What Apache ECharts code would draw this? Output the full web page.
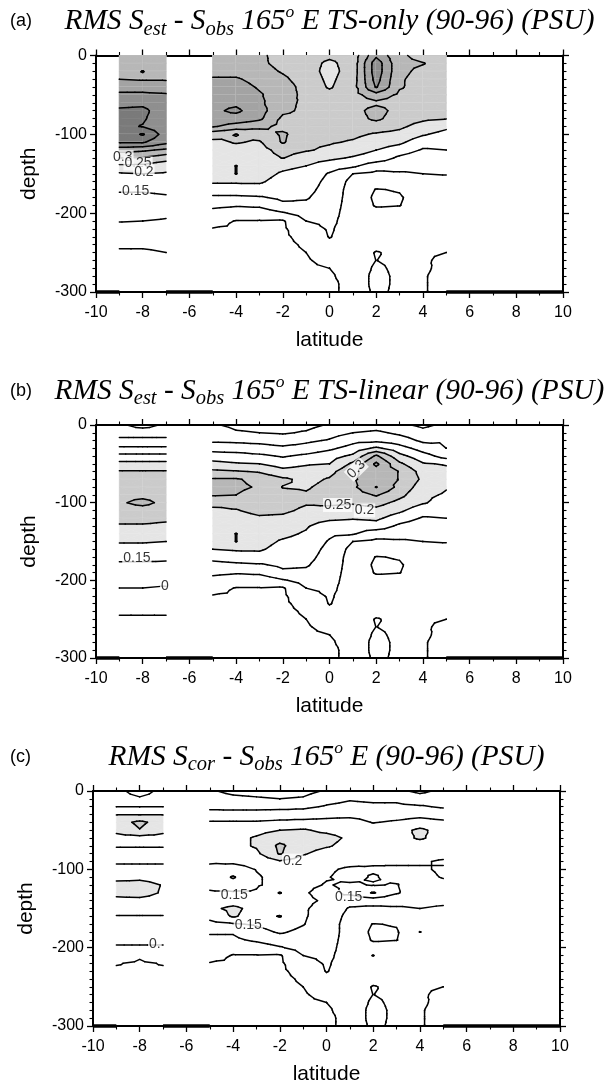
<!DOCTYPE html>
<html>
<head>
<meta charset="utf-8">
<script src="https://cdn.jsdelivr.net/npm/echarts/dist/echarts.min.js"></script>
<style>
html,body{margin:0;padding:0;background:#fff;}
#chart{width:609px;height:1089px;}
</style>
</head>
<body>
<div id="chart"></div>
<script>
const N = null;
// grid coordinates
const latitudes = [-9,-8,-7,-6,-5,-4,-3,-2,-1,0,1,2,3,4,5];
const depths = [0,-10,-20,-30,-40,-50,-60,-70,-80,-90,-100,-110,-120,-130,-140,-150,-160,-170,-180,-190,-200,-210,-220,-230,-240,-250,-260,-270,-280,-290,-300];
const contourLevels = [0.05,0.10,0.15,0.20,0.25,0.30,0.35,0.40,0.45,0.50];
const shadeLevels = [0.20,0.25,0.30,0.35,0.40,0.45];
const noData = [N,N,N,N,N,N,N,N,N,N,N,N,N,N,N,N,N,N,N,N,N,N,N,N,N,N,N,N,N,N,N];

// RMS values (units of 0.01 PSU); one array per latitude column, depth 0 .. -300 m
const rmsTSonly = [
 [31,32,33,35,38,41,44,45.5,46,46,46.5,45.5,37,30,24,19.5,17.5,15.5,14,13,12,10.2,8.5,7,5.5,4.5,N,N,N,N,N],
 [31,33,35.1,34.5,38,41,44,46,45.5,44.8,50.5,45.5,36,29.5,24,20,17.5,15.5,14,13,12,10,8.5,7,5.5,4.5,N,N,N,N,N],
 [30.5,31.5,32.5,34.5,37.5,40.5,42,42.5,42.5,42,42.5,41.5,34,27,22,19.5,17.5,16,14.5,13,11,9.5,8,7,5.8,5,N,N,N,N,N],
 noData,
 [32,32.5,33.5,35.5,37,38,38.5,39,38,35.5,27,24,23.5,23,22.5,22,20.5,18,14,11,8.5,6.5,4.8,4.5,4,4,3.8,3.6,3.5,3.5,3.5],
 [32,32.5,33.5,35.5,37,38,39,41,38,33,24.9,25.3,23.5,23,25.1,25.1,20.5,18,14,10.5,7.5,4.8,4.5,4.3,4.2,4,3.9,3.8,3.6,3.5,3.5],
 [31,31,32,33.5,34.5,35.5,36,37,36,31.5,27,24.5,23,22.5,22,21.5,20.5,18.5,14.5,11,7,4.8,4.5,4.3,4.2,4.1,4,4,3.9,3.8,3.7],
 [28,28.5,29.5,31,32.5,32.5,31.5,31,29,28.5,30.8,30.5,27,25.2,21,19.5,18.5,17,16,14,9.5,4.5,4.3,4.2,4.1,4,4,4,4,4,4],
 [27.5,27,27,27.5,28,28.5,29,29,28.5,27.5,27,26,25.5,22,20,18.5,17.5,16.5,15.5,14,12,10,8,6.5,5.5,5,4.5,4.2,4,4,4],
 [26,24,23.5,24,24.5,26.5,27.5,28,28,27.5,26.5,25.5,24,21,17.5,14.5,13.5,13,12.5,12,11.5,11,10.5,10.2,9,7.5,6.5,5,4.5,4,4],
 [27,27,27,27.5,28,28,27.5,28,28,27,26,24.5,22,19.5,16,10,8.5,8,8,8,8,8,8,8,7.5,7,6.5,6.5,6.5,6.5,6.5],
 [39,43,43,42,40.5,33,29,32,31,27.5,24.5,22.5,20,18,12,9,8,4.8,4.2,4.6,6.5,7.5,7.5,7,6,4.8,4.97,4.6,4.3,4.3,4.5],
 [30.8,31,31,30.5,30.5,29,28,28,27.5,26,23.5,21,17.5,14,11.5,9.5,7.5,5.3,4.6,4.9,6,6.5,6.5,6.5,6,5.8,5.5,5.5,5.5,5.5,5.5],
 [28.5,30.2,29,28.5,28,28,27.5,27,26,23,20.5,17,14.5,12,11,10,9,8,7,7,6.5,6.5,6,6,5.5,5.2,5.3,5.4,5.2,5.2,5.2],
 [28,28,28.5,28.5,28,27.5,27,26.5,25.2,21,18.5,16.5,15,13,11.5,10.2,9,8,7.5,7,6.5,6.5,6,6,5.5,5,4.5,4.3,4.2,4.2,4.2]
];
const rmsTSlinear = [
 [4.5,3.5,6,11,16.5,21.5,25.5,27,28,29,29.5,28.5,26.5,24.5,22.5,20.5,18,15.8,14.5,13,11.5,10,8.5,7,5.5,4.5,N,N,N,N,N],
 [6,3.5,6,11,16.5,21.5,25.5,27,28,29,31,28.5,26.5,24.5,22.5,20.5,18,15.8,14.5,13,11.5,10,8.5,7,5.5,4.5,N,N,N,N,N],
 [4.5,3.5,6,11,16.5,21.5,25.5,27,27.5,28.5,29,28,26,24,22,20,17.5,15.5,14.5,13,11.5,9.5,8.5,7,5.5,4.5,N,N,N,N,N],
 noData,
 [5.5,7.5,9.2,13,17.5,21.5,26,30.5,31,30.5,26.5,24,23.5,23,22.5,21.5,20,17,13,11,8.5,6.5,4.8,4.5,4.3,4.2,4,4,3.8,3.6,3.5],
 [4,5.5,9,12.5,17,20.5,25.5,30.5,31,30,26,24.8,23.5,23,25.1,25.1,20.5,18,14,10.5,7.5,4.8,4.5,4.3,4.2,4,4,3.9,3.8,3.6,3.5],
 [3.5,5,8.5,12,16,20,24.5,28.5,29.5,28,26.5,26,24.5,23,22,21.5,20.5,18.5,14.5,11,7,4.8,4.5,4.3,4.2,4.1,4,4,3.9,3.8,3.7],
 [3,4.5,7.5,11,14.5,18,21.5,26,24.8,26.5,27,26,24,22,21,19.5,18.5,17,16,14,9.5,4.5,4.3,4.2,4.1,4,4,4,4,4,4],
 [3.5,5.5,9,12,16,19.5,22,23.5,24.5,25.5,25.5,24,22,20.5,19.5,18.5,17.5,16.5,15.5,14,12,10,8,6.5,5.5,5,4.5,4.2,4,4,4],
 [5.5,8,10.5,14,18,20,23.5,25.5,26.5,27,26,23.5,21,17.5,16,14.5,13.5,13,12.5,12,11.5,11,10.5,10.2,9,7.5,6.5,5,4.5,4,4],
 [7,10,13.5,17,21,26,29,29.5,29,27.5,25.5,23,20.5,17,15.5,10,8.5,8,8,8,8,8,8,8,7.5,7,6.5,6.5,6.5,6.5,6.5],
 [7.5,11,14,21,31,36,33,32,35.2,30.5,27,23.5,21,18,12,9,8,4.8,4.2,4.6,6.5,7.5,7.5,7,6,4.8,4.97,4.6,4.3,4.3,4.5],
 [6,9,12.5,17,21.5,26,29.8,29.8,28.5,26.5,23.5,21,17.5,14,11.5,9.5,7.5,5.3,4.6,4.9,6,6.5,6.5,6.5,6,5.8,5.5,5.5,5.5,5.5,5.5],
 [4,6.5,9,13,17,20.5,23,24,22.5,21,20.5,17,14.5,12,11,10,9,8,7,7,6.5,6.5,6,6,5.5,5.2,5.3,5.4,5.2,5.2,5.2],
 [6,8,9.5,10,13,19.5,21.5,22,20.3,19.5,18,16.5,15,13,11.5,10.2,9,8,7.5,7,6.5,6.5,6,6,5.5,5,4.5,4.3,4.2,4.2,4.2]
];
const rmsCorrected = [
 [11,11.5,15,19.8,23,21.5,18,15.2,14,14.5,16,19,21,21,19,16.5,14.8,13,12,10.8,9.6,7.5,5.2,4.5,4,3.8,N,N,N,N,N],
 [8.5,10.5,15,19.8,26,24.8,18,15.2,14,14.5,16,19,21.5,21.5,19,16.5,14.8,13,12,10.8,9.6,5.5,4.5,4.5,4,3.8,N,N,N,N,N],
 [11,11.5,15,19.8,23,21.5,18,15.2,14,14.5,16,18.5,19.8,19.6,18.5,16.5,14.8,13,12,10.8,9.6,7.5,5.2,4.5,4,3.8,N,N,N,N,N],
 noData,
 [5.5,7,8.7,12,15.5,17,18,18,17,15.5,14,14,14,15.5,17.5,19,16.5,13.5,10.5,9,8,6.5,4.8,4.5,4.3,4.2,4,4,3.8,3.6,3.5],
 [4,6,8.5,12,15.5,17.5,18.5,18.5,17.5,15.8,13,9.5,12.5,15.5,18,21,20.5,14.5,10.5,9,6.5,4.8,4.5,4.3,4.2,4.1,4,3.9,3.8,3.6,3.5],
 [3.5,5.5,8.5,12,15.5,18.5,20.5,20.5,19,16.5,15.2,14.5,14.5,15.5,17,18.5,18,15.5,13.5,11,7,4.8,4.5,4.3,4.2,4.1,4,4,3.9,3.8,3.7],
 [3,5,8.5,12.5,16,20,23,26,25.5,19.5,17,16.5,16.5,20.3,17,17,20.3,17,15.5,13,9.5,4.5,4.3,4.2,4.1,4,4,4,4,4,4],
 [3.5,5.5,9,12.5,16.5,20.5,22,22,20.5,17.5,16.5,16,15.8,15.5,15.8,15.5,15.5,15.2,14,13,12,10,8,6.5,5.5,5,4.5,4.2,4,4,4],
 [5.5,8,10.5,13.5,16.5,19,21.5,20.5,18,16.5,15.5,15.2,14.8,13.5,14.5,13.5,13,12.5,12.5,12,11.5,11,10.5,10.2,9,7.5,6.5,5,4.5,4,4],
 [7,9.5,11.5,14,16.5,18,19.2,18.5,17.5,16,14.5,14,15.5,16,12,9.5,8.5,8,8,8,8,8,8,8,7.5,7,6.5,6.5,6.5,6.5,6.5],
 [7.5,9,11,13.5,14.8,17,17.5,17,16.5,15.5,14.6,15.3,14.8,20.5,12,9,8,4.8,4.2,4.6,6.5,10.1,7.5,7,6,4.8,4.97,4.6,4.3,4.3,4.5],
 [6,9,11,13.5,15.5,18,18.5,17.5,16.5,15.5,14.5,14,15.2,15.5,11.5,9.5,7.5,5.3,4.6,4.9,6,6.5,6.5,6.5,6,5.8,5.5,5.5,5.5,5.5,5.5],
 [4,7,10.5,13.5,17,21,20.5,18,16.5,15.5,14.5,14,13,12,11,10,9,8,10.1,7,6.5,6.5,6,6,5.5,5.2,5.3,5.4,5.2,5.2,5.2],
 [6,8,9.5,12.5,16,18,18.5,17.5,16.5,14.5,15.5,15.2,14,12,10.8,9.5,9,8,7.5,7,6.5,6.5,6,6,5.5,5,4.5,4.3,4.2,4.2,4.2]
];

// contour labels: [latitude, depth, text]
const labelsTSonly = [[-8.85,-129,'0.3'],[-8.2,-137,'0.25'],[-7.95,-148,'0.2'],[-8.3,-172,'0.15']];
const labelsTSlinear = [[-8.25,-172,'0.15'],[-7.05,-207,'0'],[1.15,-57,'0.3'],[0.35,-103,'0.25'],[1.5,-110,'0.2']];
const labelsCorrected = [[-1.45,-89,'0.2'],[-3.95,-133,'0.15'],[-3.35,-171,'0.15'],[0.95,-135,'0.15'],[-7.35,-196,'0.']];

const panelTags = ['(a)','(b)','(c)'];
const titleParts = [
  ['RMS S','est',' - S','obs',' 165','o',' E TS-only (90-96) (PSU)'],
  ['RMS S','est',' - S','obs',' 165','o',' E TS-linear (90-96) (PSU)'],
  ['RMS S','cor',' - S','obs',' 165','o',' E (90-96) (PSU)']
];
const xName = 'latitude';
const yName = 'depth';

// ---------- layout / style ----------
const shadeColors = ['#e5e5e5','#cbcbcb','#b7b7b7','#a3a3a3','#8f8f8f','#7a7a7a'];
const grids = [
  {left:96, top:55.5, width:467, height:236.5},
  {left:96, top:425, width:467, height:233},
  {left:93, top:791, width:467, height:235}
];
const titleTops = [3.5, 373, 739];
const fields = [rmsTSonly, rmsTSlinear, rmsCorrected];
const labelSets = [labelsTSonly, labelsTSlinear, labelsCorrected];

function cellTris(F, i, j){
  const a=F[i][j], b=F[i+1][j], c=F[i+1][j+1], d=F[i][j+1];
  if(a==null||b==null||c==null||d==null) return null;
  const x0=latitudes[i], x1=latitudes[i+1], y0=depths[j], y1=depths[j+1];
  const P=[x0,y0,a/100], Q=[x1,y0,b/100], R=[x1,y1,c/100], S=[x0,y1,d/100];
  const C=[(x0+x1)/2,(y0+y1)/2,(a+b+c+d)/400];
  return [[P,Q,C],[Q,R,C],[R,S,C],[S,P,C]];
}
function clipPoly(tri, t){
  const out=[];
  for(let k=0;k<tri.length;k++){
    const a=tri[k], b=tri[(k+1)%tri.length];
    const ain=a[2]>t, bin=b[2]>t;
    if(ain) out.push(a);
    if(ain!==bin){
      const f=(t-a[2])/(b[2]-a[2]);
      out.push([a[0]+f*(b[0]-a[0]), a[1]+f*(b[1]-a[1]), t]);
    }
  }
  return out;
}
function segTri(tri, t){
  const pts=[];
  for(let k=0;k<3;k++){
    const a=tri[k], b=tri[(k+1)%3];
    if((a[2]>t)!==(b[2]>t)){
      const f=(t-a[2])/(b[2]-a[2]);
      pts.push([a[0]+f*(b[0]-a[0]), a[1]+f*(b[1]-a[1])]);
    }
  }
  return pts.length===2?pts:null;
}
function cellData(){
  const d=[];
  for(let i=0;i<latitudes.length-1;i++) for(let j=0;j<depths.length-1;j++) d.push([latitudes[i],depths[j],i,j]);
  return d;
}
function fillRenderer(F){
  return function(params, api){
    const tris=cellTris(F, api.value(2), api.value(3));
    if(!tris) return null;
    const children=[];
    shadeLevels.forEach((t,li)=>{
      tris.forEach(tri=>{
        const poly=clipPoly(tri, t+1e-9);
        if(poly.length>=3){
          children.push({type:'polygon', shape:{points:poly.map(p=>api.coord([p[0],p[1]]))},
            style:{fill:shadeColors[li], stroke:shadeColors[li], lineWidth:0.6}});
        }
      });
    });
    return {type:'group', children};
  };
}
function lineRenderer(F){
  return function(params, api){
    const tris=cellTris(F, api.value(2), api.value(3));
    if(!tris) return null;
    const children=[];
    contourLevels.forEach(t=>{
      tris.forEach(tri=>{
        const s=segTri(tri, t+1e-9);
        if(s){
          const p=api.coord(s[0]), q=api.coord(s[1]);
          children.push({type:'line', shape:{x1:p[0],y1:p[1],x2:q[0],y2:q[1]},
            style:{stroke:'#000', lineWidth:1.5, lineCap:'round'}});
        }
      });
    });
    return {type:'group', children};
  };
}
function gapIntervals(F){
  const has = F.map(col=>col.some(v=>v!=null));
  const cov=[];
  for(let i=0;i<latitudes.length-1;i++) if(has[i]&&has[i+1]) cov.push([latitudes[i],latitudes[i+1]]);
  const merged=[];
  cov.forEach(c=>{ if(merged.length && merged[merged.length-1][1]===c[0]) merged[merged.length-1][1]=c[1]; else merged.push(c.slice()); });
  const gaps=[]; let x=-10;
  merged.forEach(m=>{ if(m[0]>x) gaps.push([x,m[0]]); x=m[1]; });
  if(x<10) gaps.push([x,10]);
  return gaps;
}

const font='Liberation Sans';
const serif='Liberation Serif';
const option = {animation:false, backgroundColor:'#fff', title:[], grid:[], xAxis:[], yAxis:[], series:[]};
const cells = cellData();
for(let k=0;k<3;k++){
  const g=grids[k];
  option.grid.push({left:g.left, top:g.top, width:g.width, height:g.height, show:false, containLabel:false, outerBoundsMode:'none'});
  const p=titleParts[k];
  option.title.push({text:panelTags[k], left:10, top:titleTops[k]+8, padding:0,
    textStyle:{fontFamily:font, fontSize:18, fontWeight:'normal', color:'#000', lineHeight:20}});
  option.title.push({
    text:'{m|'+p[0]+'}{s|'+p[1]+'}{m|'+p[2]+'}{s|'+p[3]+'}{m|'+p[4]+'}{p|'+p[5]+'}{m|'+p[6]+'}',
    left:g.left+g.width/2, top:titleTops[k], textAlign:'center', padding:0,
    textStyle:{fontWeight:'normal', rich:{
      m:{fontFamily:serif, fontStyle:'italic', fontWeight:'normal', fontSize:29.4, lineHeight:36, color:'#000'},
      s:{fontFamily:serif, fontStyle:'italic', fontWeight:'normal', fontSize:20.5, lineHeight:12, verticalAlign:'bottom', color:'#000'},
      p:{fontFamily:serif, fontStyle:'italic', fontWeight:'normal', fontSize:17.5, lineHeight:16, verticalAlign:'top', color:'#000'}
    }}
  });
  ['bottom','top'].forEach(pos=>{
    option.xAxis.push({gridIndex:k, type:'value', position:pos, min:-10, max:10, interval:2,
      axisLine:{show:true, onZero:false, lineStyle:{color:'#000', width:2}},
      axisTick:{show:true, inside:false, length:6, lineStyle:{color:'#000', width:1.3}},
      minorTick:{show:true, splitNumber:2, length:3.5, lineStyle:{color:'#000', width:1.1}},
      splitLine:{show:false}, minorSplitLine:{show:false},
      axisLabel:{show:pos==='bottom', color:'#000', fontSize:16, fontFamily:font, margin:13},
      name: pos==='bottom'?xName:'', nameLocation:'middle', nameGap:38,
      nameTextStyle:{color:'#000', fontSize:21, fontFamily:font}
    });
  });
  ['left','right'].forEach(pos=>{
    option.yAxis.push({gridIndex:k, type:'value', position:pos, min:-300, max:0, interval:100,
      axisLine:{show:true, onZero:false, lineStyle:{color:'#000', width:2}},
      axisTick:{show:true, inside:false, length:6, lineStyle:{color:'#000', width:1.3}},
      minorTick:{show:true, splitNumber:10, length:3.5, lineStyle:{color:'#000', width:1.1}},
      splitLine:{show:false}, minorSplitLine:{show:false},
      axisLabel:{show:pos==='left', color:'#000', fontSize:16, fontFamily:font, margin:9},
      name: pos==='left'?yName:'', nameLocation:'middle', nameGap:56, nameRotate:90,
      nameTextStyle:{color:'#000', fontSize:21, fontFamily:font}
    });
  });
  const F=fields[k];
  option.series.push({type:'custom', xAxisIndex:2*k, yAxisIndex:2*k, data:cells, encode:{x:0,y:1}, silent:true, z:1, renderItem:fillRenderer(F)});
  option.series.push({type:'custom', xAxisIndex:2*k, yAxisIndex:2*k, data:cells, encode:{x:0,y:1}, silent:true, z:3, renderItem:lineRenderer(F)});
  option.series.push({type:'custom', xAxisIndex:2*k, yAxisIndex:2*k, data:gapIntervals(F), silent:true, z:4,
    renderItem:function(params, api){
      const a=api.coord([api.value(0),-300]), b=api.coord([api.value(1),-300]);
      return {type:'line', shape:{x1:a[0],y1:a[1],x2:b[0],y2:b[1]}, style:{stroke:'#000', lineWidth:3.5}};
    }});
  option.series.push({type:'scatter', xAxisIndex:2*k, yAxisIndex:2*k, symbolSize:0, silent:true, z:10,
    data: labelSets[k].map(l=>({name:l[2], value:[l[0],l[1]], label:{rotate:(k===1&&l[2]==='0.3')?45:0}})),
    label:{show:true, position:'inside', formatter:'{b}', color:'#000', fontSize:14, fontFamily:font, backgroundColor:'#fff', padding:[0,1]}
  });
}
const chart = echarts.init(document.getElementById('chart'), null, {renderer:'canvas', width:609, height:1089});
chart.setOption(option);
</script>
</body>
</html>
